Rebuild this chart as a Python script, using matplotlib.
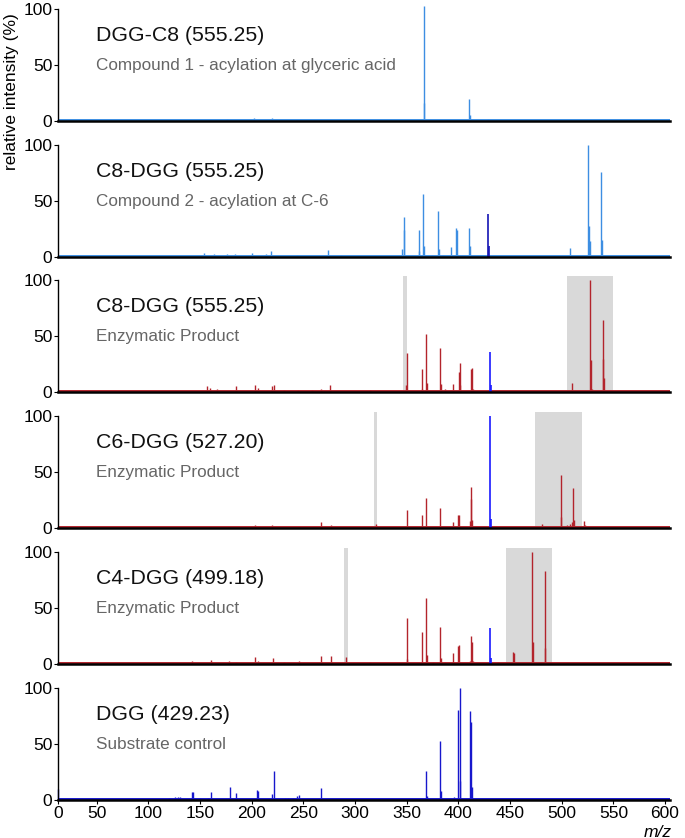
import matplotlib
matplotlib.use("Agg")
import matplotlib.pyplot as plt

plt.rcParams['font.family'] = ['Liberation Sans', 'DejaVu Sans']

# ---------------- data ----------------
titles = ["DGG-C8 (555.25)", "C8-DGG (555.25)", "C8-DGG (555.25)",
          "C6-DGG (527.20)", "C4-DGG (499.18)", "DGG (429.23)"]
subtitles = ["Compound 1 - acylation at glyceric acid", "Compound 2 - acylation at C-6",
             "Enzymatic Product", "Enzymatic Product", "Enzymatic Product", "Substrate control"]

p1_mz = [158.4, 176.2, 202.4, 219.3, 243.8, 260.7, 322.0, 366.6, 367.2, 410.6, 411.3, 428.9]
p1_int = [1, 1.5, 3, 2.5, 1, 1, 1, 103, 16, 19.5, 5, 1.5]

p2_mz = [154.3, 163.5, 176.0, 183.4, 200.7, 214.2, 218.4, 243.8, 273.4, 286.0, 302.9, 319.8,
         345.8, 347.1, 347.7, 361.6, 362.2, 366.1, 367.0, 374.2, 380.0, 381.0, 384.8, 392.6,
         398.0, 399.0, 410.3, 411.0, 455.0, 493.0, 508.0, 525.8, 526.4, 527.1, 537.8, 538.8]
p2_int = [4, 3, 3, 3, 4, 3, 5.5, 2, 6, 1.5, 1, 1,
          7, 24, 36, 5, 24, 56, 10, 2, 41, 7, 2, 9,
          26, 24, 26, 10, 1, 1, 8, 100, 28, 14, 76, 15]
p2_sub_mz = [429.0, 429.7]
p2_sub_int = [38, 10]

p3_mz = [157.2, 160.1, 166.5, 184.7, 202.8, 205.7, 219.3, 221.4, 231.1, 245.1, 258.6, 267.1,
         275.5, 314.5, 349.0, 350.6, 364.5, 365.3, 368.4, 369.2, 382.3, 383.1, 387.0, 394.5,
         400.3, 401.3, 402.0, 412.2, 413.2, 414.0, 509.7, 527.7, 528.7, 529.4, 539.7, 540.4, 541.0]
p3_int = [5, 4, 3, 5, 6, 4, 5, 6, 2, 2, 2, 3,
          6, 2, 6, 35, 20.5, 3, 52, 8, 39, 7, 3, 7,
          18, 26, 6, 20.5, 21, 3, 8, 100, 28.6, 3, 64.5, 29.5, 12.7]
p3_sub_mz = [430.9, 431.6]
p3_sub_int = [35.5, 6]
p3_bands = [(346.7, 350.0), (505.4, 549.9)]

p4_mz = [159.3, 178.3, 202.8, 219.7, 245.8, 267.1, 276.4, 320.0, 350.6, 364.5, 368.7, 382.3,
         394.5, 400.0, 401.0, 411.0, 412.0, 412.6, 413.5, 481.3, 499.0, 499.8, 505.0, 508.0,
         510.0, 511.2, 512.0, 521.9, 522.8]
p4_int = [1, 1, 3, 2.5, 1, 5, 3, 4, 16.4, 12, 27, 18,
          5, 11.5, 11.5, 6, 37, 26, 7, 4, 47, 10, 3, 4,
          5, 35.5, 7, 6, 3]
p4_sub_mz = [430.9, 431.6]
p4_sub_int = [100, 8]
p4_bands = [(318.7, 321.6), (474.2, 519.4)]

p5_mz = [142.4, 160.5, 178.3, 184.7, 202.8, 205.7, 220.5, 231.1, 245.9, 267.1, 276.4, 291.3,
         314.5, 350.0, 350.6, 364.5, 368.7, 369.4, 375.0, 382.3, 383.0, 387.0, 394.5, 400.0,
         401.0, 411.0, 412.2, 412.9, 414.0, 438.0, 452.9, 453.5, 471.3, 472.0, 478.0, 480.0,
         483.5, 484.2, 505.0]
p5_int = [3, 4, 3, 2, 6, 3, 5, 2, 3, 7, 7, 6,
          1.5, 4.5, 41, 29, 59, 8, 1.5, 33, 5, 1.5, 9.6, 16,
          17, 3, 25, 19.5, 3, 1.5, 11, 10, 100, 20, 2, 2,
          83, 14.4, 1]
p5_sub_mz = [430.9, 431.6]
p5_sub_int = [32, 5]
p5_bands = [(289.6, 292.9), (446.1, 490.9)]

p6_mz = [13.0, 120, 126, 129, 131, 142.5, 143.5, 150, 158, 160.6, 178.7, 185.1, 204.9, 205.8,
         219.5, 221.6, 232, 235, 240, 244, 245.8, 267.4, 323, 368.4, 369.5, 382.3, 383.2, 396,
         399.4, 401.5, 402.0, 411.5, 412.5, 413.5]
p6_int = [10, 2, 2.5, 3, 3, 7.5, 7, 2, 1.5, 7, 12, 6, 9, 8,
          5, 26, 2, 2, 2, 4, 4.5, 11, 1, 26, 4, 53, 8, 3,
          80, 100, 17, 79.6, 70, 12]

x_ticks = [50, 100, 150, 200, 250, 300, 350, 400, 450, 500, 550, 600]
y_ticks = [0, 50, 100]

# ---------------- styles ----------------
LIGHT_BLUE = "#3d8ee2"
DARK_BLUE = "#1414b4"
RED = "#b3242c"
BLUE = "#1a1aff"
SUB_BLUE = "#1717cc"
BAND = "#d9d9d9"

panels = [
    (p1_mz, p1_int, LIGHT_BLUE, None, None, None, []),
    (p2_mz, p2_int, LIGHT_BLUE, p2_sub_mz, p2_sub_int, DARK_BLUE, []),
    (p3_mz, p3_int, RED, p3_sub_mz, p3_sub_int, BLUE, p3_bands),
    (p4_mz, p4_int, RED, p4_sub_mz, p4_sub_int, BLUE, p4_bands),
    (p5_mz, p5_int, RED, p5_sub_mz, p5_sub_int, BLUE, p5_bands),
    (p6_mz, p6_int, SUB_BLUE, None, None, None, []),
]

W, H = 685, 838
fig = plt.figure(figsize=(W / 100, H / 100), dpi=100)

X0_PX, X1_PX = 58, 670
zero_px = [121, 257, 392, 528, 664, 800]
YMAX = 104
h100 = 112
XMIN, XMAX = 12.6, 604.8

for i, (mz, inten, col, smz, sint, scol, bands) in enumerate(panels):
    y0 = zero_px[i]
    hpx = h100 * YMAX / 100
    ax = fig.add_axes([X0_PX / W, 1 - y0 / H, (X1_PX - X0_PX) / W, hpx / H])
    ax.set_xlim(XMIN, XMAX)
    ax.set_ylim(0, YMAX)
    for (a, b) in bands:
        ax.axvspan(a, b, ymin=0, ymax=1, color=BAND, lw=0, zorder=0)
    ax.axhline(0.7, color=col, lw=1.4, zorder=1)
    ax.vlines(mz, 0, inten, color=col, lw=1.0, zorder=2, clip_on=False)
    if smz is not None:
        ax.vlines(smz, 0, sint, color=scol, lw=1.2, zorder=3)
    for s in ("top", "right"):
        ax.spines[s].set_visible(False)
    ax.spines["left"].set_bounds(0, 100)
    ax.spines["left"].set_linewidth(1.0)
    ax.spines["bottom"].set_linewidth(1.8)
    ax.spines["bottom"].set_zorder(4)
    ax.set_yticks(y_ticks)
    ax.set_yticklabels([str(t) for t in y_ticks])
    ax.tick_params(axis="y", length=3, width=0.8, pad=1, labelsize=12.5)
    if i < 5:
        ax.set_xticks([])
    else:
        ax.set_xticks([XMIN] + x_ticks)
        ax.set_xticklabels(["0"] + [str(t) for t in x_ticks])
        ax.tick_params(axis="x", length=3, width=0.8, pad=1, labelsize=12.5)
    ax.text(0.062, 0.73, titles[i], transform=ax.transAxes, fontsize=15.3,
            color="#111111", va="center", ha="left")
    ax.text(0.062, 0.48, subtitles[i], transform=ax.transAxes, fontsize=12.3,
            color="#666666", va="center", ha="left")

fig.text(12 / W, 1 - 92 / H, "relative intensity (%)", rotation=90, fontsize=12.5,
         va="center", ha="center")
fig.text(658 / W, 1 - 832 / H, "m/z", fontsize=12.5, style="italic", va="center", ha="center")

fig.savefig("out.png", dpi=100)
